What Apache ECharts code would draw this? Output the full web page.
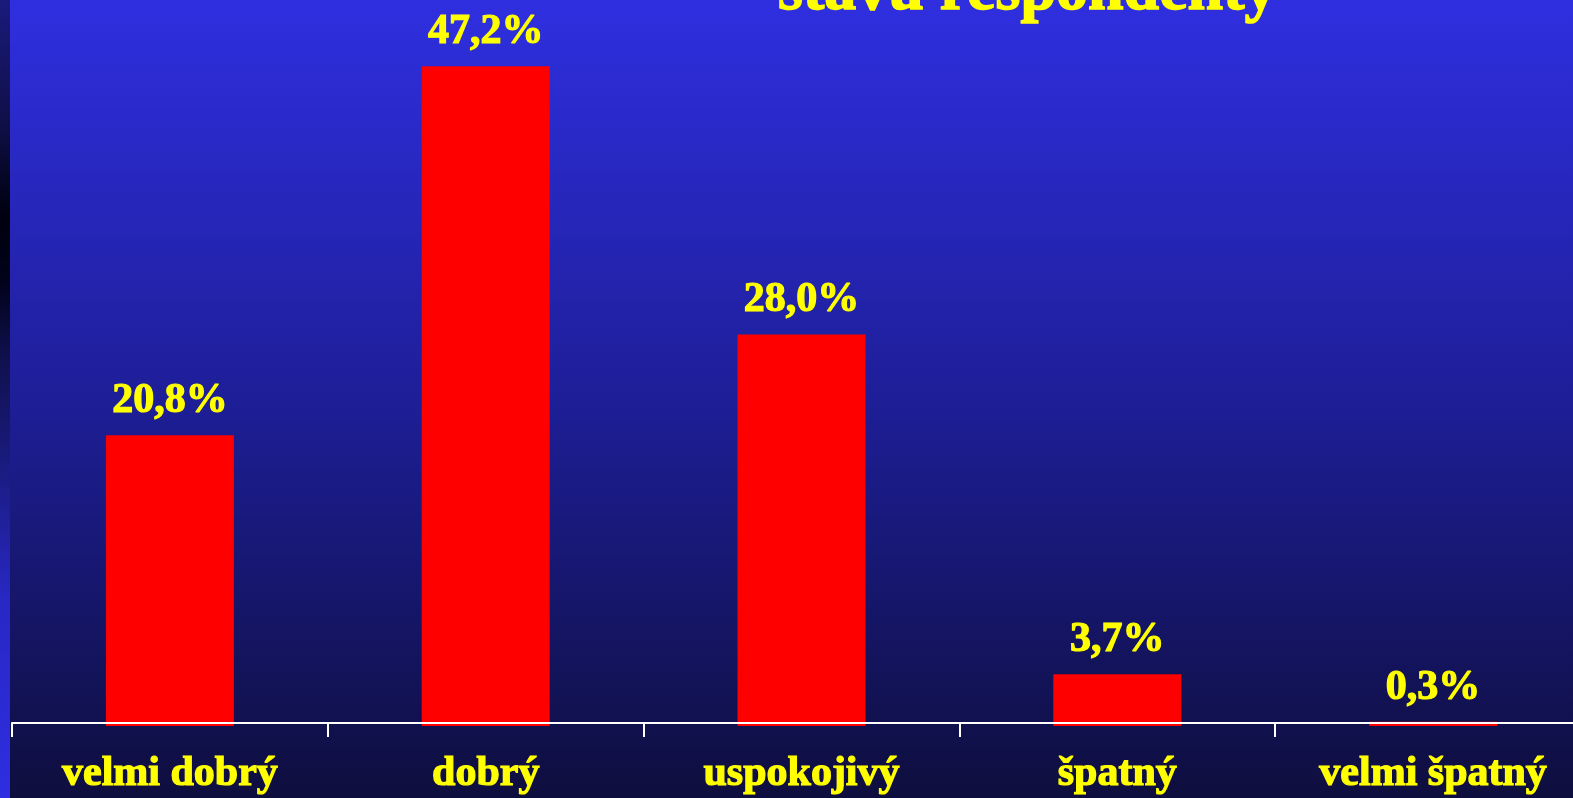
<!DOCTYPE html>
<html>
<head>
    <meta charset="UTF-8">
    <title>stavu respondenty</title>
    <script src="https://cdn.jsdelivr.net/npm/echarts@6/dist/echarts.min.js"></script>
    <style>
        html, body { margin: 0; padding: 0; overflow: hidden; }
    </style>
</head>
<body>
<div id="chart" style="width: 1573px; height: 798px"></div>
<script>
    var categories = ['velmi dobrý', 'dobrý', 'uspokojivý', 'špatný', 'velmi špatný'];
    var values = [20.8, 47.2, 28.0, 3.7, 0.3];
    var titleText = 'stavu respondenty';

    var yellow = '#ffff00';
    var serif = '"Liberation Serif", "DejaVu Serif", serif';

    var myChart = echarts.init(document.getElementById('chart'));

    var option = {
        backgroundColor: {
            type: 'linear', x: 0, y: 0, x2: 0, y2: 1,
            colorStops: [
                {offset: 0, color: '#2f2fe0'},
                {offset: 0.5, color: '#1e1e98'},
                {offset: 1, color: '#0e0e3e'}
            ]
        },
        title: {
            text: titleText,
            left: 778,
            top: -40,
            padding: 0,
            textStyle: {
                color: yellow,
                fontFamily: serif,
                fontWeight: 'bold',
                fontSize: 64,
                textBorderColor: yellow,
                textBorderWidth: 1.5
            }
        },
        // dark strip along the left edge
        graphic: [{
            type: 'rect',
            left: 0, top: 0,
            shape: {width: 10, height: 798},
            style: {
                fill: {
                    type: 'linear', x: 0, y: 0, x2: 0, y2: 1,
                    colorStops: [
                        {offset: 0, color: '#1a1a7c'},
                        {offset: 0.15, color: '#10104a'},
                        {offset: 0.27, color: '#000010'},
                        {offset: 0.35, color: '#02021a'},
                        {offset: 0.45, color: '#10104e'},
                        {offset: 0.6, color: '#1c1c86'},
                        {offset: 0.75, color: '#2828c4'},
                        {offset: 1, color: '#2e2ee2'}
                    ]
                }
            }
        }],
        grid: {
            left: 12,
            top: 27,
            width: 1579,
            bottom: 72,
            outerBoundsMode: 'none',
            containLabel: false
        },
        xAxis: {
            type: 'category',
            data: categories,
            offset: -3,
            z: 5,
            axisLine: {lineStyle: {color: '#ffffff', width: 2}},
            axisTick: {show: true, length: 14, lineStyle: {color: '#ffffff', width: 2}},
            axisLabel: {
                color: yellow,
                fontFamily: serif,
                fontWeight: 'bold',
                fontSize: 42,
                textBorderColor: yellow,
                textBorderWidth: 1.2,
                margin: 30
            }
        },
        yAxis: {
            type: 'value',
            min: 0,
            max: 50,
            show: false
        },
        series: [{
            type: 'bar',
            data: values,
            barWidth: 128,
            itemStyle: {color: '#ff0000'},
            label: {
                show: true,
                position: 'top',
                distance: 13,
                color: yellow,
                fontFamily: serif,
                fontWeight: 'bold',
                fontSize: 42,
                textBorderColor: yellow,
                textBorderWidth: 1.2,
                formatter: function (p) {
                    return p.value.toFixed(1).replace('.', ',') + '%';
                }
            }
        }]
    };
    myChart.setOption(option);
</script>
</body>
</html>
